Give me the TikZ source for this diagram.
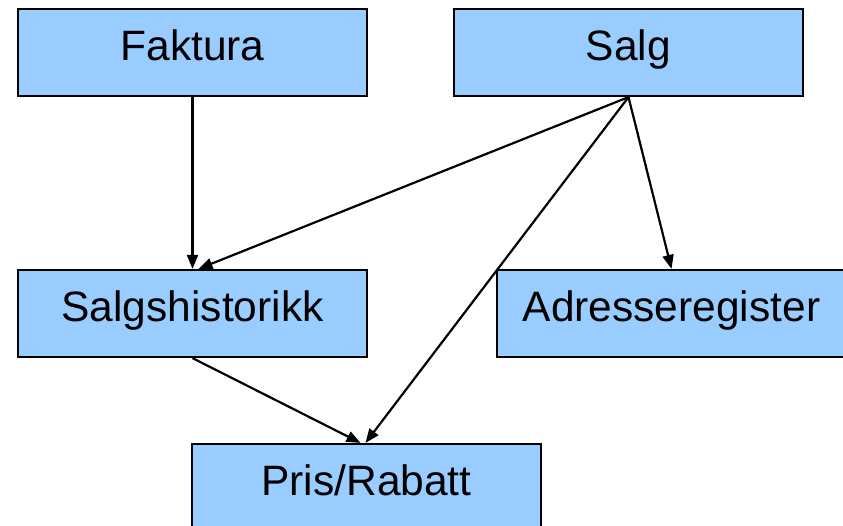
\documentclass[tikz,border=0pt]{standalone}
\usepackage{fontspec}
\setmainfont{Liberation Sans}
\usetikzlibrary{arrows.meta}
\begin{document}
\begin{tikzpicture}[x=1pt,y=-1pt,
  box/.style={draw=black,line width=2.2pt,fill={rgb,255:red,153;green,204;blue,255},
    minimum width=349pt,minimum height=87pt,inner sep=0pt,text height=31pt,text depth=15pt,
    font=\fontsize{42.5}{48}\selectfont},
  conn/.style={line width=2.2pt,-{Triangle[length=14pt,width=11pt]}}]
\useasboundingbox (0,0) rectangle (843,526);
\node[box] (faktura) at (192.5,52.5) {Faktura};
\node[box] (salg) at (628.5,52.5) {Salg};
\node[box] (hist) at (192.5,313.5) {Salgshistorikk};
\node[box] (adr) at (671.5,313.5) {Adresseregister};
\node[box] (pris) at (366.5,487.5) {Pris/Rabatt};
\draw[conn] (faktura.south) -- (hist.north);
\draw[conn] (salg.south) -- ([xshift=6pt]hist.north);
\draw[conn] (salg.south) -- ([xshift=-1pt]pris.north);
\draw[conn] (salg.south) -- (adr.north);
\draw[conn] (hist.south) -- ([xshift=-6pt]pris.north);
\end{tikzpicture}
\end{document}
